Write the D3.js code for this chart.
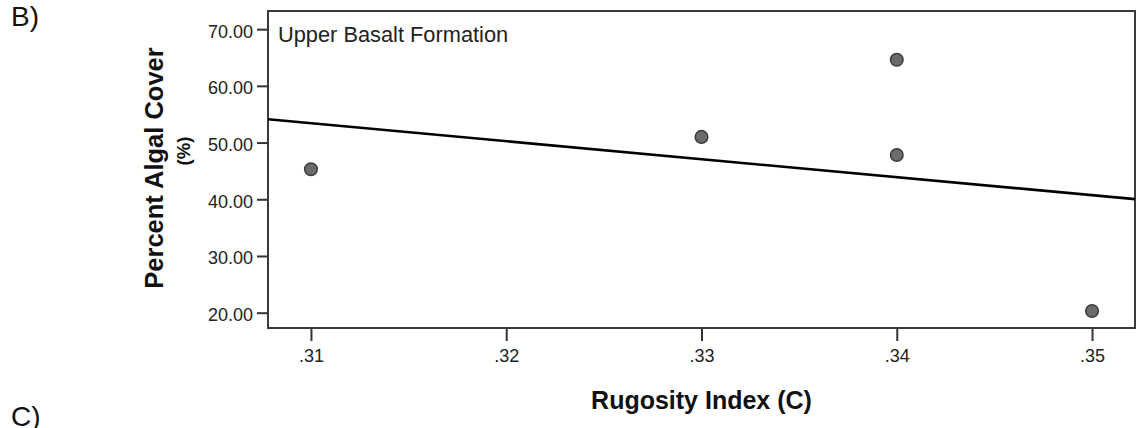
<!DOCTYPE html>
<html>
<head>
<meta charset="utf-8">
<script src="https://cdn.jsdelivr.net/npm/d3@7"></script>
<style>
  body { margin: 0; background: #fff; }
  svg { display: block; font-family: "Liberation Sans", Arial, sans-serif; }
</style>
</head>
<body>
<div id="chart"></div>
<script>
// data
var rugosity = [0.31, 0.33, 0.34, 0.34, 0.35];
var algalCover = [45.3, 51.0, 64.6, 47.8, 20.3];

var xTicks = [0.31, 0.32, 0.33, 0.34, 0.35];
var yTicks = [20, 30, 40, 50, 60, 70];
var xLimits = [0.3078, 0.3522];
var yLimits = [17.3, 73.2];

var W = 1144, H = 428;
var pLeft = 268, pRight = 1135, pTop = 11, pBottom = 328;

var svg = d3.select("#chart").append("svg")
    .attr("width", W)
    .attr("height", H);

var x = d3.scaleLinear().domain(xLimits).range([pLeft, pRight]);
var y = d3.scaleLinear().domain(yLimits).range([pBottom, pTop]);

// panel letters
svg.append("text").attr("x", 11).attr("y", 26)
    .style("font-size", "28px").style("fill", "#111").text("B)");
svg.append("text").attr("x", 11).attr("y", 426)
    .style("font-size", "28px").style("fill", "#111").text("C)");

// y axis
var yAxis = svg.append("g")
    .attr("transform", "translate(" + pLeft + ",0)")
    .call(d3.axisLeft(y).tickValues(yTicks).tickSize(11).tickPadding(4)
        .tickFormat(d3.format(".2f")));
yAxis.select(".domain").remove();
yAxis.selectAll("line").attr("stroke", "#333").attr("stroke-width", 2);
yAxis.selectAll("text")
    .attr("dy", "0.44em")
    .style("font-size", "18px")
    .style("fill", "#222")
    .style("font-family", "'Liberation Sans', Arial, sans-serif");

// x axis
var xAxis = svg.append("g")
    .attr("transform", "translate(0," + pBottom + ")")
    .call(d3.axisBottom(x).tickValues(xTicks).tickSize(13).tickPadding(8)
        .tickFormat(function(d){ return d3.format(".2f")(d).replace(/^0/, ""); }));
xAxis.select(".domain").remove();
xAxis.selectAll("line").attr("stroke", "#333").attr("stroke-width", 2);
xAxis.selectAll("text")
    .style("font-size", "18px")
    .style("fill", "#222")
    .style("font-family", "'Liberation Sans', Arial, sans-serif");

// frame
svg.append("rect")
    .attr("x", pLeft).attr("y", pTop)
    .attr("width", pRight - pLeft).attr("height", pBottom - pTop)
    .attr("fill", "none")
    .attr("stroke", "#3a3a3a")
    .attr("stroke-width", 2);

// least squares fit line
var mx = d3.mean(rugosity), my = d3.mean(algalCover);
var sxy = d3.sum(rugosity, function(d, i){ return (d - mx) * (algalCover[i] - my); });
var sxx = d3.sum(rugosity, function(d){ return (d - mx) * (d - mx); });
var slope = sxy / sxx, icpt = my - slope * mx;

svg.append("defs").append("clipPath").attr("id", "clip")
    .append("rect").attr("x", pLeft).attr("y", pTop)
    .attr("width", pRight - pLeft).attr("height", pBottom - pTop);

var fit = d3.line()
    .x(function(d){ return x(d); })
    .y(function(d){ return y(icpt + slope * d); });

svg.append("path")
    .attr("clip-path", "url(#clip)")
    .attr("d", fit(xLimits))
    .attr("fill", "none")
    .attr("stroke", "#000")
    .attr("stroke-width", 2.6);

// points
svg.selectAll("circle.pt")
    .data(rugosity)
    .enter().append("circle")
    .attr("class", "pt")
    .attr("cx", function(d){ return x(d); })
    .attr("cy", function(d, i){ return y(algalCover[i]); })
    .attr("r", 6.3)
    .attr("fill", "#6b6b6b")
    .attr("stroke", "#3c3c3c")
    .attr("stroke-width", 1.5);

// annotation
svg.append("text")
    .attr("x", 278).attr("y", 42)
    .style("font-size", "21.8px")
    .style("fill", "#222")
    .text("Upper Basalt Formation");

// axis titles
svg.append("text")
    .attr("x", (pLeft + pRight) / 2).attr("y", 409)
    .attr("text-anchor", "middle")
    .style("font-size", "25px")
    .style("font-weight", "bold")
    .style("fill", "#111")
    .text("Rugosity Index (C)");

svg.append("text")
    .attr("transform", "translate(163,168) rotate(-90)")
    .attr("text-anchor", "middle")
    .style("font-size", "25.5px")
    .style("font-weight", "bold")
    .style("fill", "#111")
    .text("Percent Algal Cover");

svg.append("text")
    .attr("transform", "translate(190,151) rotate(-90)")
    .attr("text-anchor", "middle")
    .style("font-size", "18.5px")
    .style("font-weight", "bold")
    .style("fill", "#111")
    .text("(%)");
</script>
</body>
</html>
